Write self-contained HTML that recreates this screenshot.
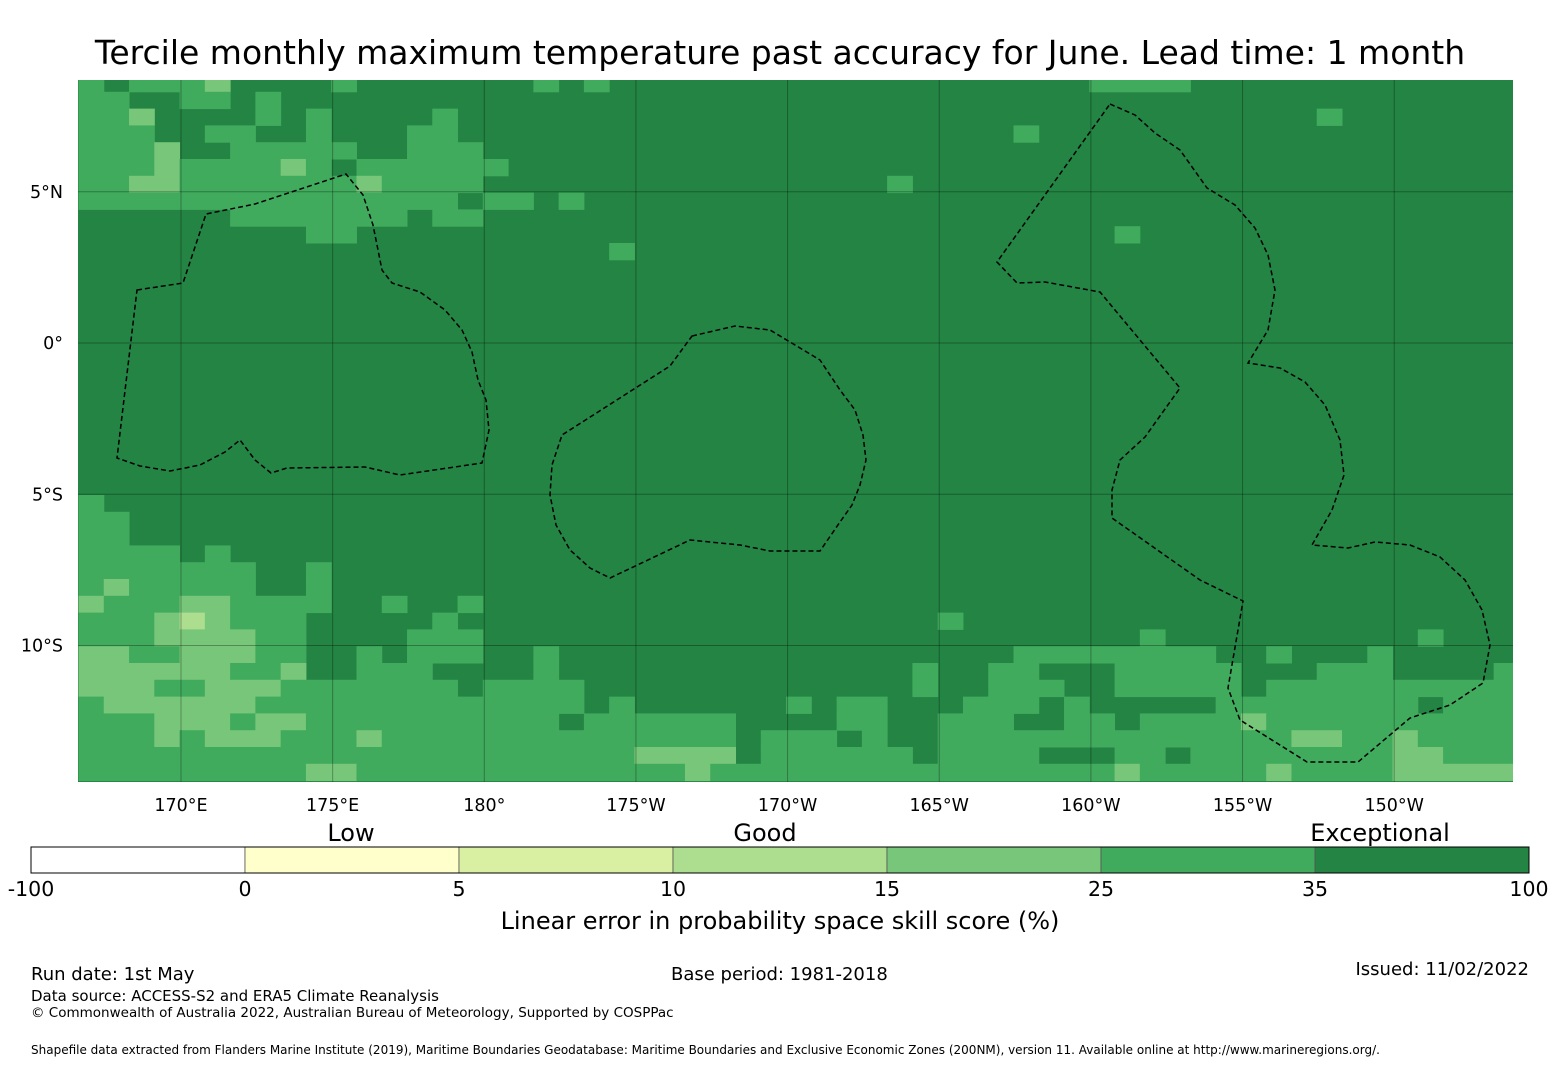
<!DOCTYPE html>
<html><head><meta charset="utf-8"><style>
html,body{margin:0;padding:0;background:#fff;}
body{width:1560px;height:1065px;position:relative;overflow:hidden;font-family:"DejaVu Sans","Liberation Sans",sans-serif;}
svg{position:absolute;left:0;top:0;font-family:"DejaVu Sans","Liberation Sans",sans-serif;}
</style></head><body>
<svg id="chart" width="1560" height="1065">
<text x="780" y="64" text-anchor="middle" font-size="33">Tercile monthly maximum temperature past accuracy for June. Lead time: 1 month</text>
<g id="map"></g>
<g id="grid"></g>
<g id="eez"></g>
<g id="axes"></g>
<g id="cbar"></g>
<text x="351" y="841" text-anchor="middle" font-size="24">Low</text>
<text x="765" y="841" text-anchor="middle" font-size="24">Good</text>
<text x="1380" y="841" text-anchor="middle" font-size="24">Exceptional</text>
<text x="780" y="929" text-anchor="middle" font-size="24">Linear error in probability space skill score (%)</text>
<text x="31" y="980" font-size="18">Run date: 1st May</text>
<text x="671" y="980" font-size="18">Base period: 1981-2018</text>
<text x="1529" y="975" text-anchor="end" font-size="18">Issued: 11/02/2022</text>
<text x="31" y="1001" font-size="15">Data source: ACCESS-S2 and ERA5 Climate Reanalysis</text>
<text x="31" y="1017" font-size="13.5">© Commonwealth of Australia 2022, Australian Bureau of Meteorology, Supported by COSPPac</text>
<text x="31" y="1054" font-size="12">Shapefile data extracted from Flanders Marine Institute (2019), Maritime Boundaries Geodatabase: Maritime Boundaries and Exclusive Economic Zones (200NM), version 11. Available online at http://www.marineregions.org/.</text>
</svg>
<script>
// [row, colStart, colEnd, level]  level: 3 = 35-100, 2 = 25-35, 1 = 15-25, 0 = 10-15; default 3
const cellRuns = [
[0,0,0,2],[0,2,4,2],[0,5,5,1],[0,10,10,2],[0,18,18,2],[0,20,20,2],[0,40,43,2],
[1,0,1,2],[1,4,5,2],[1,7,7,2],
[2,0,1,2],[2,2,2,1],[2,7,7,2],[2,9,9,2],[2,14,14,2],[2,49,49,2],
[3,0,2,2],[3,5,6,2],[3,9,9,2],[3,13,14,2],[3,37,37,2],
[4,0,2,2],[4,3,3,1],[4,6,10,2],[4,13,15,2],
[5,0,2,2],[5,3,3,1],[5,4,7,2],[5,8,8,1],[5,9,9,2],[5,11,16,2],
[6,0,1,2],[6,2,3,1],[6,4,10,2],[6,11,11,1],[6,12,15,2],[6,32,32,2],
[7,0,14,2],[7,16,17,2],[7,19,19,2],
[8,6,12,2],[8,14,15,2],
[9,9,10,2],[9,41,41,2],
[10,21,21,2],
[25,0,0,2],[26,0,1,2],[27,0,1,2],
[28,0,3,2],[28,5,5,2],
[29,0,6,2],[29,9,9,2],
[30,0,0,2],[30,1,1,1],[30,2,6,2],[30,9,9,2],
[31,0,0,1],[31,1,3,2],[31,4,5,1],[31,6,9,2],[31,12,12,2],[31,15,15,2],
[32,0,2,2],[32,3,3,1],[32,4,4,0],[32,5,5,1],[32,6,8,2],[32,14,14,2],[32,34,34,2],
[33,0,2,2],[33,3,6,1],[33,7,8,2],[33,13,15,2],[33,42,42,2],[33,53,53,2],
[34,0,1,1],[34,2,3,2],[34,4,6,1],[34,7,8,2],[34,11,11,2],[34,13,15,2],[34,18,18,2],[34,37,44,2],[34,47,47,2],[34,51,51,2],
[35,0,5,1],[35,6,7,2],[35,8,8,1],[35,11,13,2],[35,18,18,2],[35,33,33,2],[35,36,37,2],[35,41,45,2],[35,49,51,2],[35,56,56,2],
[36,0,2,1],[36,3,4,2],[36,5,7,1],[36,8,14,2],[36,16,19,2],[36,33,33,2],[36,36,38,2],[36,41,45,2],[36,47,56,2],
[37,0,0,2],[37,1,6,1],[37,7,19,2],[37,21,21,2],[37,28,28,2],[37,30,31,2],[37,35,37,2],[37,39,39,2],[37,45,52,2],[37,54,56,2],
[38,0,2,2],[38,3,5,1],[38,6,6,2],[38,7,8,1],[38,9,18,2],[38,20,25,2],[38,30,31,2],[38,34,36,2],[38,39,40,2],[38,42,45,2],[38,46,46,1],[38,47,56,2],
[39,0,2,2],[39,3,3,1],[39,4,4,2],[39,5,7,1],[39,8,10,2],[39,11,11,1],[39,12,25,2],[39,27,29,2],[39,31,31,2],[39,34,47,2],[39,48,49,1],[39,50,51,2],[39,52,52,1],[39,53,56,2],
[40,0,21,2],[40,22,25,1],[40,27,32,2],[40,34,37,2],[40,41,42,2],[40,44,51,2],[40,52,53,1],[40,54,56,2],
[41,0,8,2],[41,9,10,1],[41,11,23,2],[41,24,24,1],[41,25,40,2],[41,41,41,1],[41,42,46,2],[41,47,47,1],[41,48,51,2],[41,52,56,1]
];
const latTicks = [5, 0, -5, -10];
const latLabels = ["5°N", "0°", "5°S", "10°S"];
const lonTicks = [170, 175, 180, 185, 190, 195, 200, 205, 210];
const lonLabels = ["170°E", "175°E", "180°", "175°W", "170°W", "165°W", "160°W", "155°W", "150°W"];
const cbBounds = [-100, 0, 5, 10, 15, 25, 35, 100];
const cbColors = ["#ffffff", "#ffffcc", "#d9f0a3", "#addd8e", "#78c679", "#41ab5d", "#238443"];
const levelColors = ["#addd8e", "#78c679", "#41ab5d", "#238443"];

const NS = "http://www.w3.org/2000/svg";
const X0 = 78, X1 = 1513, Y0 = 80, Y1 = 782;
const CW = 25.27, CH = 16.8, CX0 = 78.5, CY0 = 75;
const lonX = lon => 181 + (lon - 170) * 30.33;
const latY = lat => 343 - lat * 30.25;
function mk(tag, attrs, parent) { const e = document.createElementNS(NS, tag); for (const k in attrs) e.setAttribute(k, attrs[k]); parent.appendChild(e); return e; }

const map = document.getElementById('map');
const cp = mk('clipPath', {id: 'mclip'}, map);
mk('rect', {x: X0, y: Y0, width: X1 - X0, height: Y1 - Y0}, cp);
const mg = mk('g', {'clip-path': 'url(#mclip)'}, map);
const bg = mk('rect', {x: X0, y: Y0, width: X1 - X0, height: Y1 - Y0, fill: levelColors[3]}, mg);


cellRuns.forEach(r => {
  const [row, c0, c1, lv] = r;
  const cell = mk('rect', {x: CX0 + c0 * CW, y: CY0 + row * CH, width: (c1 - c0 + 1) * CW + 0.5, height: CH + 0.5, fill: levelColors[lv]}, mg);
  
  
});

const grid = document.getElementById('grid');
lonTicks.forEach(l => mk('line', {x1: lonX(l), x2: lonX(l), y1: Y0, y2: Y1, stroke: 'rgba(0,0,0,0.3)', 'stroke-width': 1}, grid));
latTicks.forEach(l => mk('line', {x1: X0, x2: X1, y1: latY(l), y2: latY(l), stroke: 'rgba(0,0,0,0.3)', 'stroke-width': 1}, grid));

const eez = document.getElementById('eez');
const polys = [
 "137,290 183,283 206,214 255,204 346,174 363,195 373,225 382,270 392,283 420,292 445,310 462,330 472,352 478,380 486,400 489,430 482,463 400,475 365,467 287,468 271,473 255,460 240,440 225,452 200,465 170,471 140,466 117,458",
 "692,336 735,326 770,330 795,345 820,360 840,390 855,410 863,435 866,460 860,485 852,505 840,522 820,551 770,551 740,545 690,540 610,578 590,568 570,550 556,525 550,495 552,465 562,435 670,366",
 "1110,104 1135,115 1155,133 1180,150 1207,188 1235,205 1255,228 1268,255 1275,290 1268,330 1248,363 1280,368 1305,382 1325,405 1340,440 1344,475 1332,510 1312,545 1348,548 1375,542 1410,545 1440,557 1465,580 1482,610 1490,645 1483,683 1450,705 1410,718 1358,762 1307,762 1240,720 1228,688 1243,601 1200,580 1112,518 1112,490 1120,460 1145,437 1180,388 1140,340 1100,292 1045,282 1017,283 997,262"
];
polys.forEach(p => {
  const e = mk('polygon', {points: p, fill: 'none', stroke: '#000', 'stroke-width': 1.5, 'stroke-dasharray': '5,3'}, eez);
  
  
});

const axes = document.getElementById('axes');
latTicks.forEach((l, i) => {
  const t = mk('text', {x: 63, y: latY(l) + 6, 'text-anchor': 'end', 'font-size': 17.5}, axes);
  t.textContent = latLabels[i];
  
  
});
lonTicks.forEach((l, i) => {
  const t = mk('text', {x: lonX(l), y: 811, 'text-anchor': 'middle', 'font-size': 17.5}, axes);
  t.textContent = lonLabels[i];
  
  
});

const cb = document.getElementById('cbar');
const CBX0 = 31, CBX1 = 1529, CBY = 847, CBH = 26;
const segW = (CBX1 - CBX0) / cbColors.length;
cbColors.forEach((c, i) => {
  const r = mk('rect', {x: CBX0 + i * segW, y: CBY, width: segW, height: CBH, fill: c, stroke: '#555', 'stroke-width': 0.8}, cb);
  
  
});
mk('rect', {x: CBX0, y: CBY, width: CBX1 - CBX0, height: CBH, fill: 'none', stroke: '#000', 'stroke-width': 1}, cb);
cbBounds.forEach((b, i) => {
  const t = mk('text', {x: CBX0 + i * segW, y: 896, 'text-anchor': 'middle', 'font-size': 20.5}, cb);
  t.textContent = b;
  
  
});
</script>
</body></html>
